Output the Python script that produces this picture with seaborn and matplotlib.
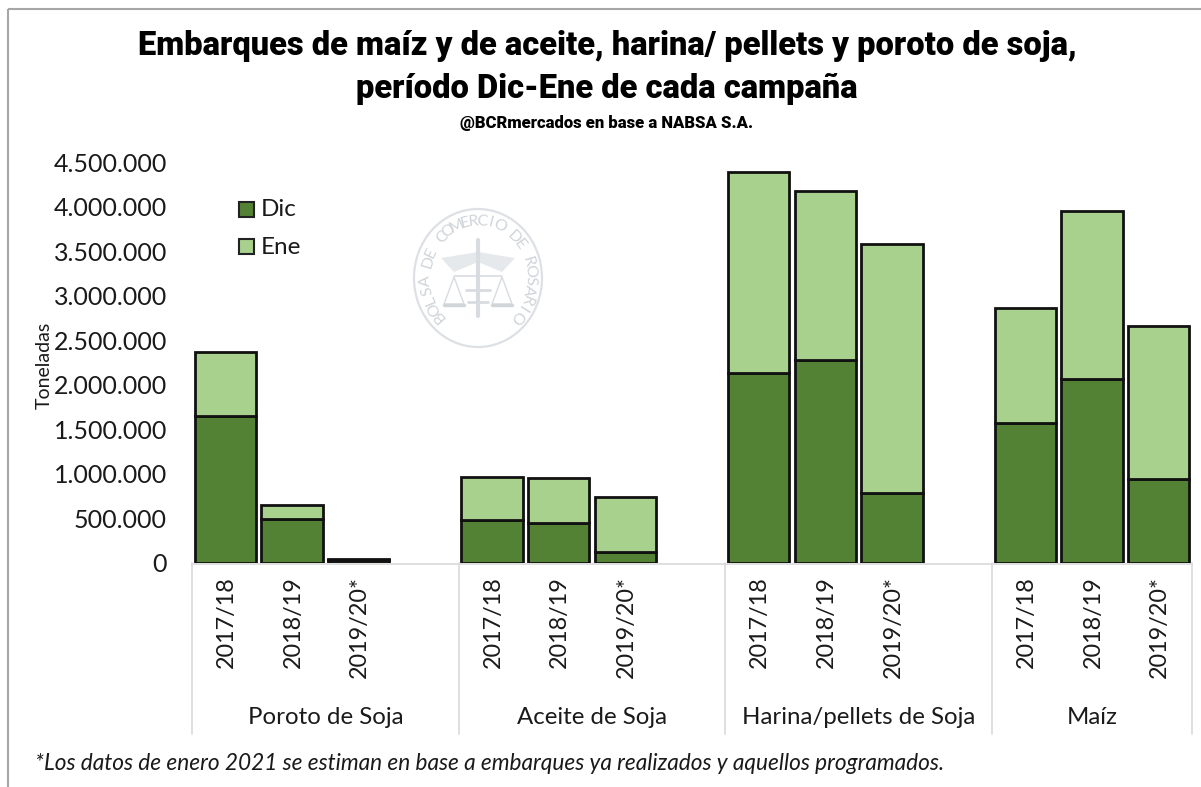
import numpy as np
import pandas as pd
import seaborn as sns
import matplotlib.pyplot as plt
from matplotlib.patches import Ellipse, Rectangle, Polygon

productos = ['Poroto de Soja', 'Aceite de Soja', 'Harina/pellets de Soja', 'Maíz']
campanias = ['2017/18', '2018/19', '2019/20*']
dic = [1650000, 490000, 30000,
       480000, 450000, 120000,
       2130000, 2280000, 785000,
       1570000, 2060000, 940000]
ene = [718000, 160000, 20000,
       480000, 500000, 620000,
       2260000, 1900000, 2795000,
       1290000, 1890000, 1720000]
y_ticks = [0, 500000, 1000000, 1500000, 2000000, 2500000, 3000000, 3500000, 4000000, 4500000]

GRIS = '#d9d9d9'
VERDE_OSC = '#548235'
VERDE_CLA = '#a9d18e'
TEXTO = '#1a1a1a'
TITULO = ['Roboto', 'Liberation Sans', 'DejaVu Sans']

W, H = 1201, 787

sns.set_theme(style='white')
plt.rcParams['font.family'] = ['Lato', 'DejaVu Sans']

# tabla larga, con un hueco vacio despues de cada producto menos el ultimo
filas = []
orden = []
for i, prod in enumerate(productos):
    for j, camp in enumerate(campanias):
        clave = prod + ' ' + camp
        orden.append(clave)
        filas.append({'clave': clave, 'Dic': dic[i * 3 + j], 'Ene': ene[i * 3 + j]})
    if i < len(productos) - 1:
        orden.append('hueco %d' % i)
df = pd.DataFrame(filas)

fig = plt.figure(figsize=(W / 100, H / 100), dpi=100)
ax = fig.add_axes([192 / W, 1 - 563 / H, 1000 / W, 401 / H])
ax.patch.set_alpha(0)

sns.barplot(data=df, x='clave', y='Dic', order=orden, color=VERDE_OSC, saturation=1,
            width=0.92, edgecolor='#111111', linewidth=2, ax=ax)
sns.barplot(data=df, x='clave', y='Ene', order=orden, color=VERDE_CLA, saturation=1,
            width=0.92, edgecolor='#111111', linewidth=2, ax=ax, bottom=df['Dic'].values)

ax.set_xlim(-0.5, len(orden) - 0.5)
ax.set_ylim(0, 4500000)
ax.set_yticks(y_ticks)
ax.set_yticklabels([format(v, ',').replace(',', '.') for v in y_ticks], fontsize=18, color=TEXTO)
ax.tick_params(axis='y', length=0, pad=18)
ax.set_xticks([])
ax.set_xlabel('')
ax.set_ylabel('')
sns.despine(ax=ax, left=True, top=True, right=True, bottom=True)

# overlay en pixeles para los ejes multinivel, textos y sello
ov = fig.add_axes([0, 0, 1, 1], zorder=-1)
ov.set_xlim(0, W)
ov.set_ylim(H, 0)
ov.axis('off')
ov.add_patch(Rectangle((8, 9), W, H, fill=False, edgecolor='#a6a6a6', linewidth=1.5))

slot = 1000 / len(orden)
ov.plot([192, 1192], [563.5, 563.5], color=GRIS, lw=1.2)
k = 0
bordes = [192]
for i, prod in enumerate(productos):
    for camp in campanias:
        ov.text(192 + (k + 0.5) * slot + 1, 576, camp, rotation=90, ha='center', va='top', fontsize=16.8, color=TEXTO)
        k += 1
    if i < len(productos) - 1:
        k += 1
    bordes.append(192 + k * slot)
for i, prod in enumerate(productos):
    ov.text((bordes[i] + bordes[i + 1]) / 2, 717, prod, ha='center', va='center', fontsize=17.3, color=TEXTO)
for b in bordes:
    ov.plot([b, b], [563, 734], color=GRIS, lw=1.2)

ov.text(607, 46, 'Embarques de maíz y de aceite, harina/ pellets y poroto de soja,', ha='center', va='center',
        fontsize=23.5, fontweight=900, family=TITULO, color='black')
ov.text(607, 89, 'período Dic-Ene de cada campaña', ha='center', va='center',
        fontsize=23.5, fontweight=900, family=TITULO, color='black')
ov.text(607, 123, '@BCRmercados en base a NABSA S.A.', ha='center', va='center',
        fontsize=12, fontweight=900, family=TITULO, color='black')
ov.text(44, 365, 'Toneladas', rotation=90, ha='center', va='center', fontsize=14, color=TEXTO)
ov.text(35, 764, '*Los datos de enero 2021 se estiman en base a embarques ya realizados y aquellos programados.',
        ha='left', va='center', fontsize=16.3, style='italic', color=TEXTO)

# leyenda
for yl, col, nom in [(210, VERDE_OSC, 'Dic'), (247, VERDE_CLA, 'Ene')]:
    ov.add_patch(Rectangle((239, yl - 8), 15, 15, facecolor=col, edgecolor='#222222', linewidth=1.5))
    ov.text(261, yl, nom, ha='left', va='center', fontsize=17.5, color=TEXTO)

# sello de fondo
cx, cy = 478, 278
c_sello = '#dde0e4'
ov.add_patch(Ellipse((cx, cy), 128, 138, fill=False, edgecolor=c_sello, lw=1.6))
txt = 'BOLSA DE COMERCIO DE ROSARIO'
angs = np.linspace(222, -42, len(txt))
for letra, a in zip(txt, angs):
    r = np.radians(a)
    ov.text(cx + 52 * np.cos(r), cy - 57 * np.sin(r), letra, rotation=a - 90, rotation_mode='anchor',
            ha='center', va='center', fontsize=11.5, color='#d0d5da')
# alas, caduceo y balanza del escudo
ov.add_patch(Polygon([(478, 252), (441, 258), (454, 272), (478, 262), (502, 272), (515, 258)], closed=True, facecolor='#e6e9ec', edgecolor='none'))
ov.plot([478, 478], [240, 316], color='#d8dce0', lw=3)
ov.plot([454, 502], [276, 276], color='#d8dce0', lw=1.2)
for xb in (454, 502):
    ov.add_patch(Polygon([(xb, 277), (xb - 10, 304), (xb + 10, 304)], closed=True, fill=False, edgecolor='#d8dce0', lw=1))
    ov.plot([xb - 10, xb + 10], [305, 305], color='#d0d5da', lw=2.5)
ov.plot([466, 490], [290, 290], color='#d8dce0', lw=2)
ov.plot([468, 488], [302, 302], color='#d8dce0', lw=2)

fig.savefig('out.png', dpi=100)
